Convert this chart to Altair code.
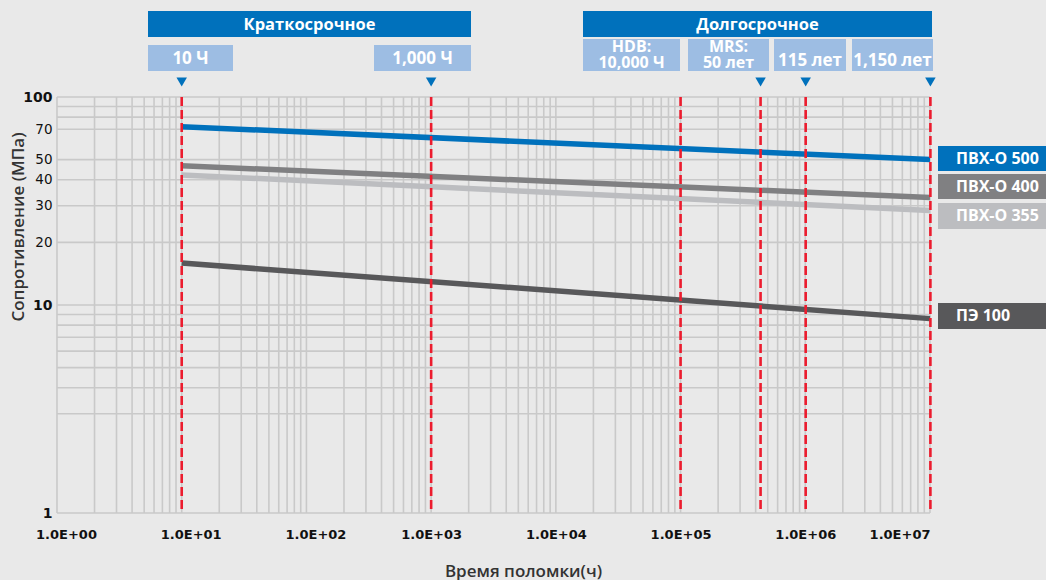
import altair as alt
import pandas as pd

# Long-term strength regression lines (hours -> MPa)
hours = [10, 1e7]
series = ["ПВХ-О 500", "ПВХ-О 400", "ПВХ-О 355", "ПЭ 100"]
start_mpa = [72.0, 46.7, 42.2, 15.9]
end_mpa = [50.0, 32.9, 28.5, 8.6]
series_colors = ["#0071bc", "#808082", "#bcbdc0", "#58585a"]

# Reference times: 10 h, 1,000 h, 50 years, 115 years, 1,150 years
marker_hours = [10, 1000, 438000, 1007400, 10074000]
hdb_hours = [100000]

x_ticks = [1, 10, 100, 1000, 10000, 100000, 1000000, 10000000]
y_ticks = [1, 10, 20, 30, 40, 50, 70, 100]
x_grid = [m * 10 ** d for d in range(7) for m in range(1, 10)] + [10000000]
y_grid = [1, 3, 4, 5, 6, 7, 8, 9, 10, 20, 30, 40, 50, 70, 80, 90, 100]

# Canvas layout
W, H = 1046, 580
LEFT, TOP, RIGHT, BOTTOM = 57, 97, 930, 513
PW, PH = RIGHT - LEFT, BOTTOM - TOP

FONT = "Open Sans"
AXIS_FONT = "DejaVu Sans"
BG = "#e9e9e9"
GRID = "#c9c9c9"
BLUE = "#0071bc"
LIGHT_BLUE = "#9dbde3"

xs = alt.Scale(type="log", domain=[1, 1e7])
ys = alt.Scale(type="log", domain=[1, 100])

decade = "datum.value == 1 || datum.value == 10 || datum.value == 100"

x_axis = alt.Axis(
    values=x_ticks,
    labelExpr="'1.0E+0' + format(log(datum.value) / LN10, '.0f')",
    grid=False, domain=False, ticks=False, labelFlush=False,
    labelFont=AXIS_FONT, labelFontSize=13, labelFontWeight="bold",
    labelColor="#111", labelPadding=15,
    labelAlign={"condition": {"test": "datum.value >= 10000000", "value": "right"}, "value": "center"},
    labelOffset={"condition": {"test": "datum.value <= 100", "value": 9}, "value": 0},
    title="Время поломки(ч)", titleFont=FONT, titleFontSize=17,
    titleFontWeight=600, titleColor="#333",
    titleX=466, titleY=58, titleAlign="center", titleBaseline="middle",
)
y_axis = alt.Axis(
    values=y_ticks, grid=False, domain=False, ticks=False, labelFlush=False,
    labelFont=AXIS_FONT, labelColor="#111", labelPadding=5,
    labelFontSize={"condition": {"test": decade, "value": 14}, "value": 13.5},
    labelFontWeight={"condition": {"test": decade, "value": "bold"}, "value": "normal"},
    title="Сопротивление (МПа)", titleFont=FONT, titleFontSize=17,
    titleFontWeight=600, titleColor="#333",
    titleX=-38.5, titleY=129.5, titleAlign="center", titleBaseline="middle",
)

rows = []
for name, a, b in zip(series, start_mpa, end_mpa):
    rows.append({"series": name, "hours": hours[0], "mpa": a})
    rows.append({"series": name, "hours": hours[1], "mpa": b})
lines_df = pd.DataFrame(rows)

grid_x = alt.Chart(pd.DataFrame({"hours": x_grid})).mark_rule(
    color=GRID, strokeWidth=1.6
).encode(x=alt.X("hours:Q", scale=xs, axis=x_axis))

grid_y = alt.Chart(pd.DataFrame({"mpa": y_grid})).mark_rule(
    color=GRID, strokeWidth=1.6
).encode(y=alt.Y("mpa:Q", scale=ys, axis=y_axis))

lines = alt.Chart(lines_df).mark_line(strokeWidth=5.5, strokeCap="butt").encode(
    x=alt.X("hours:Q", scale=xs, axis=x_axis),
    y=alt.Y("mpa:Q", scale=ys, axis=y_axis),
    color=alt.Color("series:N", scale=alt.Scale(domain=series, range=series_colors), legend=None),
    detail="series:N",
)

red_lines = alt.Chart(pd.DataFrame({"hours": marker_hours + hdb_hours})).mark_rule(
    color="#ec1c2e", strokeWidth=2.6, strokeDash=[9, 4]
).encode(x=alt.X("hours:Q", scale=xs, axis=x_axis))

triangles = alt.Chart(pd.DataFrame({"hours": marker_hours})).mark_point(
    shape="triangle-down", filled=True, size=110, color=BLUE, opacity=1, clip=False
).encode(x=alt.X("hours:Q", scale=xs, axis=x_axis), y=alt.value(82 - TOP))

# Header banners and time boxes (pixel layout)
box_x = [148, 583, 148, 374, 583, 688, 774, 852]
box_x2 = [471, 932, 233, 471, 680, 769, 846, 933]
box_y = [11, 11, 45, 45, 39, 39, 39, 39]
box_y2 = [37, 37, 71, 71, 71, 71, 71, 71]
box_fill = [BLUE, BLUE] + [LIGHT_BLUE] * 6
boxes_df = pd.DataFrame({
    "x": [v - LEFT for v in box_x], "x2": [v - LEFT for v in box_x2],
    "y": [v - TOP for v in box_y], "y2": [v - TOP for v in box_y2],
    "fill": box_fill,
})
boxes = alt.Chart(boxes_df).mark_rect(clip=False).encode(
    x=alt.X("x:Q", scale=None), x2="x2:Q",
    y=alt.Y("y:Q", scale=None), y2="y2:Q",
    color=alt.Color("fill:N", scale=None),
)

label_text = ["Краткосрочное", "Долгосрочное", "10 Ч", "1,000 Ч",
              "HDB:\n10,000 Ч", "MRS:\n50 лет", "115 лет", "1,150 лет"]
label_x = [309.5, 757.5, 190.5, 422.5, 631.5, 728.5, 810, 892.5]
label_y = [24.5, 24.5, 58.5, 58.5, 47, 47, 61, 61]
label_size = [16.5, 16.5, 17, 17, 16, 16, 17, 17]
labels_df = pd.DataFrame({
    "t": label_text,
    "x": [v - LEFT for v in label_x],
    "y": [v - TOP for v in label_y],
    "s": label_size,
})
header_text = alt.Chart(labels_df).mark_text(
    font=FONT, fontWeight="bold", color="white", lineBreak="\n", lineHeight=16,
    align="center", baseline="middle", clip=False
).encode(
    x=alt.X("x:Q", scale=None), y=alt.Y("y:Q", scale=None), text="t:N",
    size=alt.Size("s:Q", scale=None),
)

# Series tags on the right
tag_y = [146, 174, 203, 303]
tag_y2 = [171, 199, 229, 329]
tags_df = pd.DataFrame({
    "series": series,
    "x": [938 - LEFT] * 4, "x2": [W - LEFT] * 4,
    "y": [v - TOP for v in tag_y], "y2": [v - TOP for v in tag_y2],
    "ty": [(a + b) / 2 - TOP for a, b in zip(tag_y, tag_y2)],
    "tx": [956 - LEFT] * 4,
})
tags = alt.Chart(tags_df).mark_rect(clip=False).encode(
    x=alt.X("x:Q", scale=None), x2="x2:Q",
    y=alt.Y("y:Q", scale=None), y2="y2:Q",
    color=alt.Color("series:N", scale=alt.Scale(domain=series, range=series_colors), legend=None),
)
tag_text = alt.Chart(tags_df).mark_text(
    font=FONT, fontSize=16, fontWeight="bold", color="white",
    align="left", baseline="middle", clip=False
).encode(x=alt.X("tx:Q", scale=None), y=alt.Y("ty:Q", scale=None), text="series:N")

chart = alt.layer(
    grid_x, grid_y, lines, red_lines, triangles, boxes, header_text, tags, tag_text
).properties(
    width=PW, height=PH,
    autosize=alt.AutoSizeParams(type="none"),
    padding={"left": LEFT, "top": TOP, "right": W - RIGHT, "bottom": H - BOTTOM},
    background=BG,
).configure_view(stroke=None)

chart.save("out.html", embed_options={"renderer": "svg", "actions": False})
